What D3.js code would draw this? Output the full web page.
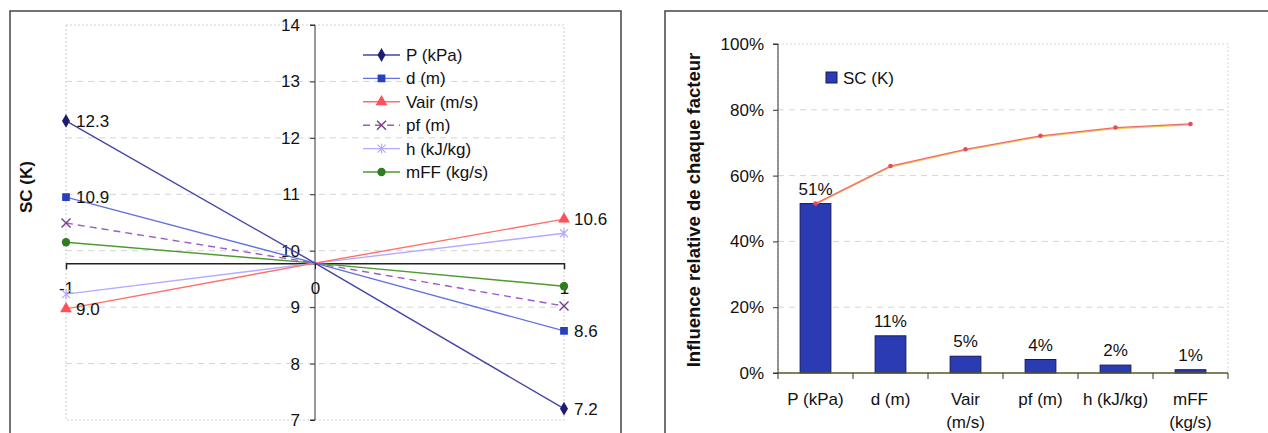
<!DOCTYPE html>
<html><head><meta charset="utf-8">
<script src="https://cdn.jsdelivr.net/npm/d3@7"></script>
<style>
html,body{margin:0;padding:0;background:#fff;}
svg{display:block;font-family:"Liberation Sans",Arial,sans-serif;}
</style></head>
<body>
<svg id="chart" width="1268" height="433"></svg>
<script>
// ---------- Data: left chart (sensitivity of SC) ----------
const levels = [-1, 0, 1];
const seriesNames = ["P (kPa)", "d (m)", "Vair (m/s)", "pf (m)", "h (kJ/kg)", "mFF (kg/s)"];
const P_values    = [12.30, 9.78, 7.20];
const d_values    = [10.95, 9.78, 8.58];
const Vair_values = [8.97, 9.78, 10.56];
const pf_values   = [10.49, 9.78, 9.02];
const h_values    = [9.23, 9.78, 10.31];
const mFF_values  = [10.15, 9.78, 9.37];
const leftYTicks  = [7, 8, 9, 10, 11, 12, 13, 14];
const leftXTicks  = [-1, 0, 1];
const leftTitle   = "SC (K)";

// ---------- Data: right chart (relative influence) ----------
const factors      = ["P (kPa)", "d (m)", "Vair\n(m/s)", "pf (m)", "h (kJ/kg)", "mFF\n(kg/s)"];
const influence    = [0.515, 0.113, 0.051, 0.041, 0.024, 0.010];
const influenceLbl = ["51%", "11%", "5%", "4%", "2%", "1%"];
const cumulative   = [0.515, 0.629, 0.680, 0.721, 0.746, 0.757];
const rightYTicks  = [0, 0.2, 0.4, 0.6, 0.8, 1.0];
const rightTitle   = "Influence relative de chaque facteur";
const barLegend    = "SC (K)";

const svg = d3.select("#chart");
const FS = 17;

// ================= LEFT CHART =================
svg.append("rect").attr("x", 10).attr("y", 11).attr("width", 611).attr("height", 440)
  .attr("fill", "none").attr("stroke", "#444").attr("stroke-width", 1.5);

const xL = d3.scaleLinear().domain([-1, 1]).range([66, 564]);
const yL = d3.scaleLinear().domain([7, 14]).range([420, 25]);
const gL = svg.append("g");

gL.selectAll(".gl").data(leftYTicks.filter(t => t > 7 && t < 14)).join("line")
  .attr("x1", xL(-1)).attr("x2", xL(1)).attr("y1", d => yL(d)).attr("y2", d => yL(d))
  .attr("stroke", "#d4d4d4").attr("stroke-dasharray", "6,5");
gL.append("rect").attr("x", xL(-1)).attr("y", yL(14)).attr("width", xL(1) - xL(-1)).attr("height", yL(7) - yL(14))
  .attr("fill", "none").attr("stroke", "#cfcfcf").attr("stroke-dasharray", "2,2");

const yAxisL = gL.append("g").attr("transform", `translate(${xL(0)},0)`)
  .call(d3.axisLeft(yL).tickValues(leftYTicks).tickSize(5).tickPadding(10).tickFormat(d3.format("d")));
yAxisL.select(".domain").attr("stroke", "#333").attr("d", `M-5,${yL(14)}H0V${yL(7)}H-5`);
yAxisL.selectAll(".tick line").attr("stroke", "#333");
yAxisL.selectAll("text").attr("font-size", FS).attr("fill", "#111").attr("font-family", "Liberation Sans, Arial");

const crossY = yL(P_values[1]);
const xAxisL = gL.append("g").attr("transform", `translate(0,${crossY})`)
  .call(d3.axisBottom(xL).tickValues(leftXTicks).tickSize(6).tickPadding(13).tickFormat(d3.format("d")));
xAxisL.select(".domain").attr("stroke", "#222").attr("stroke-width", 1.5);
xAxisL.selectAll(".tick line").attr("stroke", "#222");
xAxisL.selectAll("text").attr("font-size", FS).attr("fill", "#111").attr("font-family", "Liberation Sans, Arial")
  .text(d => d === -1 ? "-1" : d);

svg.append("text").attr("transform", `translate(32,${187}) rotate(-90)`).attr("text-anchor", "middle")
  .attr("font-weight", "bold").attr("font-size", FS).attr("fill", "#111").text(leftTitle);

const seriesVals = [P_values, d_values, Vair_values, pf_values, h_values, mFF_values];
const lineColors = ["#4444aa", "#6273e0", "#ff7068", "#9a5cc6", "#b4aaff", "#4d9a2e"];
const markColors = ["#1c1c70", "#2640c0", "#ff4f5a", "#7a3a8c", "#b7a9ff", "#2e7d1e"];
const markTypes  = ["diamond", "square", "triangle", "x", "star", "circle"];
const dashes     = [null, null, null, "7,5", null, null];

function marker(g, type, cx, cy, color) {
  const sym = { diamond: d3.symbolDiamond, square: d3.symbolSquare, triangle: d3.symbolTriangle, circle: d3.symbolCircle };
  if (type === "x") {
    g.append("path").attr("d", `M${cx-4.5},${cy-4.5}L${cx+4.5},${cy+4.5}M${cx-4.5},${cy+4.5}L${cx+4.5},${cy-4.5}`)
      .attr("stroke", color).attr("stroke-width", 1.4).attr("fill", "none");
  } else if (type === "star") {
    g.append("path").attr("d", `M${cx-4},${cy-4}L${cx+4},${cy+4}M${cx-4},${cy+4}L${cx+4},${cy-4}M${cx},${cy-5}L${cx},${cy+5}`)
      .attr("stroke", color).attr("stroke-width", 1.2).attr("fill", "none");
  } else {
    const size = { diamond: 55, square: 60, triangle: 60, circle: 55 }[type];
    g.append("path").attr("d", d3.symbol().type(sym[type]).size(size)())
      .attr("transform", `translate(${cx},${cy})`).attr("fill", color);
  }
}

const line = d3.line().x((d, i) => xL(levels[i])).y(d => yL(d));
const drawOrder = [5, 4, 3, 2, 1, 0];
drawOrder.forEach(k => {
  gL.append("path").attr("d", line(seriesVals[k])).attr("fill", "none")
    .attr("stroke", lineColors[k]).attr("stroke-width", 1.4)
    .attr("stroke-dasharray", dashes[k]);
});
drawOrder.forEach(k => {
  [0, 2].forEach(i => marker(gL, markTypes[k], xL(levels[i]), yL(seriesVals[k][i]), markColors[k]));
});

const labelSeries = [0, 1, 2];
labelSeries.forEach(k => {
  [0, 2].forEach(i => {
    const v = seriesVals[k][i];
    gL.append("text").attr("x", xL(levels[i]) + 10).attr("y", yL(v)).attr("dy", "0.35em")
      .attr("font-size", FS).attr("fill", "#111").text(d3.format(".1f")(v));
  });
});

const legL = gL.append("g").attr("transform", "translate(363,55)");
seriesNames.forEach((name, k) => {
  const gy = k * 23.4;
  const row = legL.append("g");
  row.append("line").attr("x1", 0).attr("x2", 37).attr("y1", gy).attr("y2", gy)
    .attr("stroke", lineColors[k]).attr("stroke-width", 1.4).attr("stroke-dasharray", dashes[k]);
  marker(row, markTypes[k], 18.5, gy, markColors[k]);
  row.append("text").attr("x", 43).attr("y", gy).attr("dy", "0.35em").attr("font-size", FS)
    .attr("fill", "#111").text(name);
});

// ================= RIGHT CHART =================
svg.append("rect").attr("x", 665).attr("y", 11).attr("width", 640).attr("height", 440)
  .attr("fill", "none").attr("stroke", "#444").attr("stroke-width", 1.5);

const xR = d3.scaleBand().domain(factors).range([778, 1228]).padding(0);
const yR = d3.scaleLinear().domain([0, 1]).range([373, 44]);
const gR = svg.append("g");
const barW = xR.bandwidth() * 0.41;

gR.selectAll(".gr").data(rightYTicks.filter(t => t > 0 && t < 1)).join("line")
  .attr("x1", 778).attr("x2", 1228).attr("y1", d => yR(d)).attr("y2", d => yR(d))
  .attr("stroke", "#d4d4d4").attr("stroke-dasharray", "6,5");
gR.append("rect").attr("x", 778).attr("y", yR(1)).attr("width", 450).attr("height", yR(0) - yR(1))
  .attr("fill", "none").attr("stroke", "#d6d6d6").attr("stroke-dasharray", "2,2");

const yAxisR = gR.append("g").attr("transform", "translate(778,0)")
  .call(d3.axisLeft(yR).tickValues(rightYTicks).tickSize(5).tickPadding(9).tickFormat(d3.format(".0%")));
yAxisR.select(".domain").attr("stroke", "#333").attr("d", `M-5,${yR(1)}H0V${yR(0)}H-5`);
yAxisR.selectAll(".tick line").attr("stroke", "#333");
yAxisR.selectAll("text").attr("font-size", FS).attr("fill", "#111").attr("font-family", "Liberation Sans, Arial");

svg.append("text").attr("transform", `translate(700,${210}) rotate(-90)`).attr("text-anchor", "middle")
  .attr("font-weight", "bold").attr("font-size", 18.5).attr("fill", "#111").text(rightTitle);

gR.selectAll(".bar").data(influence).join("rect")
  .attr("x", (d, i) => xR(factors[i]) + (xR.bandwidth() - barW) / 2)
  .attr("y", d => yR(d)).attr("width", barW).attr("height", d => yR(0) - yR(d))
  .attr("fill", "#2b3bb3").attr("stroke", "#141a5e").attr("stroke-width", 1);

gR.selectAll(".bl").data(influence).join("text")
  .attr("x", (d, i) => xR(factors[i]) + xR.bandwidth() / 2).attr("y", d => yR(d) - 9)
  .attr("text-anchor", "middle").attr("font-size", FS).attr("fill", "#111")
  .text((d, i) => influenceLbl[i]);

gR.append("line").attr("x1", 778).attr("x2", 1228).attr("y1", yR(0)).attr("y2", yR(0))
  .attr("stroke", "#5a5a2a").attr("stroke-width", 1.5);
const bounds = factors.map(f => xR(f)).concat([xR.range()[1]]);
gR.selectAll(".xt").data(bounds).join("line")
  .attr("x1", d => d).attr("x2", d => d).attr("y1", yR(0)).attr("y2", yR(0) + 6).attr("stroke", "#333");

factors.forEach(f => {
  const t = gR.append("text").attr("text-anchor", "middle").attr("font-size", FS).attr("fill", "#111");
  f.split("\n").forEach((ln, j) => {
    t.append("tspan").attr("x", xR(f) + xR.bandwidth() / 2).attr("y", 405 + j * 23).text(ln);
  });
});

const cumLine = d3.line().x((d, i) => xR(factors[i]) + xR.bandwidth() / 2).y(d => yR(d));
gR.append("path").attr("d", cumLine(cumulative)).attr("fill", "none")
  .attr("stroke", "#f2c94c").attr("stroke-width", 1.2).attr("transform", "translate(0,1)");
gR.append("path").attr("d", cumLine(cumulative)).attr("fill", "none")
  .attr("stroke", "#f06a6a").attr("stroke-width", 1.3);
gR.selectAll(".cp").data(cumulative).join("circle")
  .attr("cx", (d, i) => xR(factors[i]) + xR.bandwidth() / 2).attr("cy", d => yR(d)).attr("r", 2.3)
  .attr("fill", "#e84a5a");

gR.append("rect").attr("x", 826).attr("y", 72).attr("width", 11).attr("height", 11)
  .attr("fill", "#2b3bb3").attr("stroke", "#141a5e");
gR.append("text").attr("x", 843).attr("y", 78).attr("dy", "0.35em").attr("font-size", FS).attr("fill", "#111").text(barLegend);
</script>
</body></html>
